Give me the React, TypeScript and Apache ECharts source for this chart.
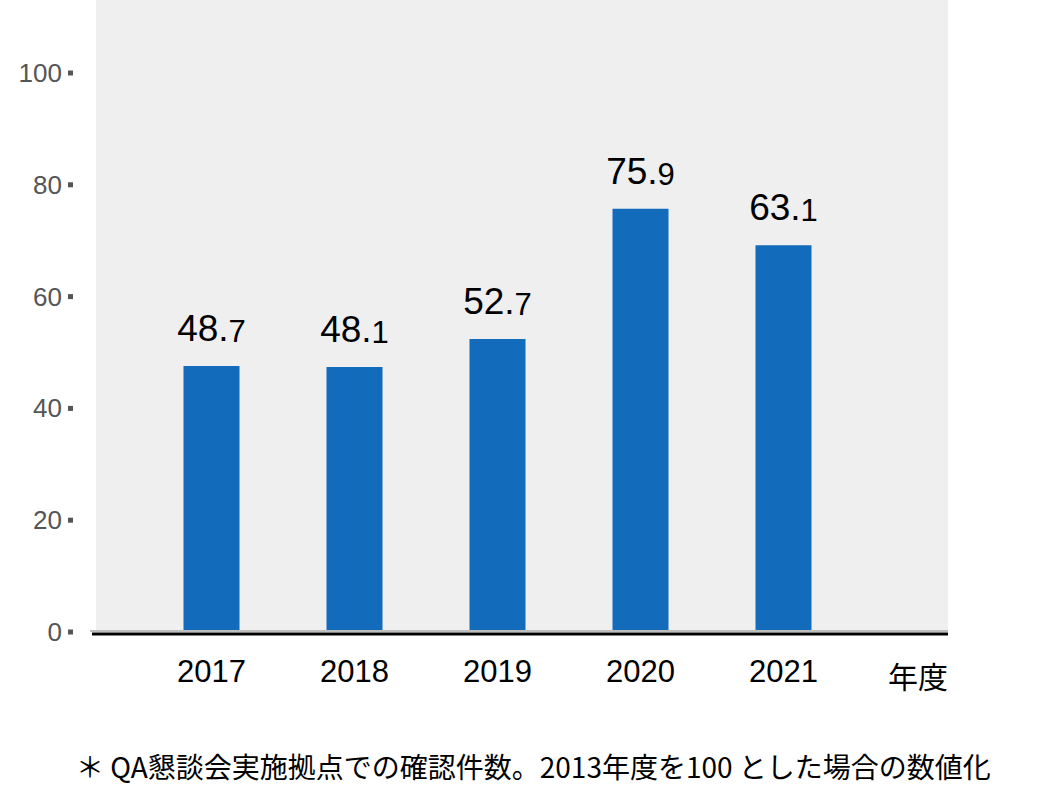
import React, { useEffect, useRef } from "react";
import * as echarts from "echarts";

const categories = ["2017", "2018", "2019", "2020", "2021"];
const barValues = [47.6, 47.4, 52.4, 75.7, 69.2];
const valueLabels = ["48.7", "48.1", "52.7", "75.9", "63.1"];
const yTicks = { min: 0, max: 100, interval: 20 };
const xAxisUnit = "年度";
const footnote = "＊ QA懇談会実施拠点での確認件数。2013年度を100 とした場合の数値化";

const LATIN = "'Liberation Sans', Arial, sans-serif";
const CJK = "'Noto Sans CJK JP', 'Liberation Sans', sans-serif";

export default function App() {
  const ref = useRef<HTMLDivElement>(null);
  useEffect(() => {
    if (!ref.current) return;
    const chart = echarts.init(ref.current, undefined, { renderer: "svg" });
    chart.setOption({
      animation: false,
      backgroundColor: "#ffffff",
      grid: { left: 140, right: 206, top: 73, bottom: 167 },
      graphic: [
        { type: "rect", z: -10, silent: true, shape: { x: 96, y: 0, width: 852, height: 632 }, style: { fill: "#efefef" } },
        { type: "line", z: 10, shape: { x1: 90, y1: 631, x2: 948, y2: 631 }, style: { stroke: "#bdbdbd", lineWidth: 2 } },
        { type: "line", z: 10, shape: { x1: 92, y1: 634, x2: 948, y2: 634 }, style: { stroke: "#000000", lineWidth: 3 } },
        { type: "text", x: 918, y: 675, style: { text: xAxisUnit, font: `30px ${CJK}`, fill: "#000", textAlign: "center", textVerticalAlign: "middle" } },
        { type: "text", x: 76, y: 766, style: { text: footnote, font: `28px ${CJK}`, fill: "#000", textAlign: "left", textVerticalAlign: "middle" } },
      ],
      xAxis: {
        type: "category",
        data: categories,
        axisLine: { show: false },
        axisTick: { show: false },
        axisLabel: { fontFamily: LATIN, fontSize: 31, color: "#000", margin: 24 },
      },
      yAxis: {
        type: "value",
        min: yTicks.min,
        max: yTicks.max,
        interval: yTicks.interval,
        axisLine: { show: false },
        axisTick: { show: false },
        splitLine: { show: false },
        axisLabel: {
          margin: 67,
          formatter: (v: number) => `{v|${v}}{s|}`,
          rich: {
            v: { fontFamily: LATIN, fontSize: 26, color: "#555555", padding: [0, 6, 0, 0] },
            s: { width: 5, height: 5, backgroundColor: "#555555" },
          },
        },
      },
      series: [
        {
          type: "bar",
          data: barValues,
          barWidth: 56,
          itemStyle: { color: "#136bbb" },
          label: {
            show: true,
            position: "top",
            distance: 19,
            formatter: (p: any) => {
              const t = valueLabels[p.dataIndex];
              const i = t.indexOf(".");
              return `{a|${t.slice(0, i + 1)}}{b|${t.slice(i + 1)}}`;
            },
            rich: {
              a: { fontFamily: LATIN, fontSize: 37, color: "#000", verticalAlign: "bottom" },
              b: { fontFamily: LATIN, fontSize: 31, color: "#000", verticalAlign: "bottom" },
            },
          },
        },
      ],
    });
    return () => chart.dispose();
  }, []);
  return <div ref={ref} style={{ position: "absolute", left: 0, top: 0, width: 1061, height: 799 }} />;
}
